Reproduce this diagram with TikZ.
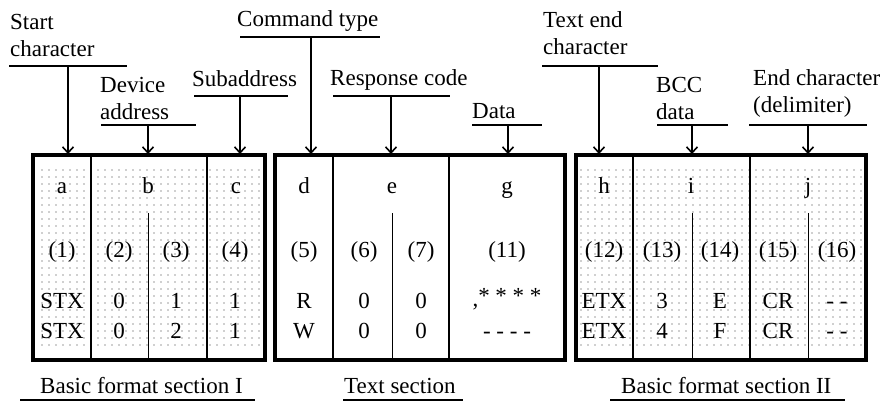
\documentclass[tikz,border=0pt]{standalone}
\usepackage{fontspec}
\setmainfont{Liberation Serif}
\usetikzlibrary{arrows.meta}
\usetikzlibrary{patterns.meta}

\begin{document}
\begin{tikzpicture}[x = 1pt, y = -1pt, font=\fontsize{23}{27}\selectfont]
	\tikzstyle{labelStyle} = [anchor = base west, inner sep = 0pt, align = left]
	\tikzstyle{cellStyle} = [anchor = base, inner sep = 0pt]
	\tikzstyle{underStyle} = [line width = 1.6pt]
	\tikzstyle{arrowStyle} = [line width = 1.6pt, -{Straight Barb[length = 6pt, width = 11pt, line width = 1.6pt]}]
	\tikzstyle{frameStyle} = [line width = 3.6pt]
	\tikzstyle{colStyle} = [line width = 1.8pt]
	\tikzstyle{splitStyle} = [line width = 0.8pt]
	\tikzstyle{dotStyle} = [pattern = {Dots[radius = 0.6pt, distance = 7pt]}, pattern color = black!80]
	\useasboundingbox (0,0) rectangle (882,401);
	% dotted sections
	\fill[dotStyle] (36,168) rectangle (262,348);
	\fill[dotStyle] (579,168) rectangle (863,348);
	% frames
	\draw[frameStyle] (33,155) rectangle (265,360);
	\draw[frameStyle] (275,155) rectangle (565,360);
	\draw[frameStyle] (576,155) rectangle (866,360);
	\draw[colStyle] (91,155) -- (91,360);
	\draw[colStyle] (207,155) -- (207,360);
	\draw[colStyle] (333,155) -- (333,360);
	\draw[colStyle] (449,155) -- (449,360);
	\draw[colStyle] (633,155) -- (633,360);
	\draw[colStyle] (750,155) -- (750,360);
	\draw[splitStyle] (148,213) -- (148,360);
	\draw[splitStyle] (392,213) -- (392,360);
	\draw[splitStyle] (692,213) -- (692,360);
	\draw[splitStyle] (808,213) -- (808,360);
	% field letters
	\node[cellStyle] (fa) at (62,193) {a};
	\node[cellStyle] (fb) at (148,193) {b};
	\node[cellStyle] (fc) at (236,193) {c};
	\node[cellStyle] (fd) at (304,193) {d};
	\node[cellStyle] (fe) at (392,193) {e};
	\node[cellStyle] (fg) at (507,193) {g};
	\node[cellStyle] (fh) at (604,193) {h};
	\node[cellStyle] (fi) at (691,193) {i};
	\node[cellStyle] (fj) at (808,193) {j};
	% byte numbers
	\node[cellStyle] (n1) at (62,257) {(1)};
	\node[cellStyle] (n2) at (119,257) {(2)};
	\node[cellStyle] (n3) at (176,257) {(3)};
	\node[cellStyle] (n4) at (235,257) {(4)};
	\node[cellStyle] (n5) at (304,257) {(5)};
	\node[cellStyle] (n6) at (364,257) {(6)};
	\node[cellStyle] (n7) at (421,257) {(7)};
	\node[cellStyle] (n11) at (507,257) {(11)};
	\node[cellStyle] (n12) at (604,257) {(12)};
	\node[cellStyle] (n13) at (662,257) {(13)};
	\node[cellStyle] (n14) at (720,257) {(14)};
	\node[cellStyle] (n15) at (778,257) {(15)};
	\node[cellStyle] (n16) at (837,257) {(16)};
	% first example
	\node[cellStyle] (r1) at (62,308) {STX};
	\node[cellStyle] (r2) at (119,308) {0};
	\node[cellStyle] (r3) at (176,308) {1};
	\node[cellStyle] (r4) at (235,308) {1};
	\node[cellStyle] (r5) at (304,308) {R};
	\node[cellStyle] (r6) at (364,308) {0};
	\node[cellStyle] (r7) at (421,308) {0};
	\node[cellStyle] (r11) at (507,306) {,\raisebox{3pt}{* * * *}};
	\node[cellStyle] (r12) at (604,308) {ETX};
	\node[cellStyle] (r13) at (662,308) {3};
	\node[cellStyle] (r14) at (720,308) {E};
	\node[cellStyle] (r15) at (778,308) {CR};
	\node[cellStyle] (r16) at (837,308) {- -};
	% second example
	\node[cellStyle] (w1) at (62,338) {STX};
	\node[cellStyle] (w2) at (119,338) {0};
	\node[cellStyle] (w3) at (176,338) {2};
	\node[cellStyle] (w4) at (235,338) {1};
	\node[cellStyle] (w5) at (304,338) {W};
	\node[cellStyle] (w6) at (364,338) {0};
	\node[cellStyle] (w7) at (421,338) {0};
	\node[cellStyle] (w11) at (507,338) {- - - -};
	\node[cellStyle] (w12) at (604,338) {ETX};
	\node[cellStyle] (w13) at (662,338) {4};
	\node[cellStyle] (w14) at (720,338) {F};
	\node[cellStyle] (w15) at (778,338) {CR};
	\node[cellStyle] (w16) at (837,338) {- -};
	% labels above
	\node[labelStyle] (lStart) at (10,57) {Start\\character};
	\node[labelStyle] (lDevice) at (100,120) {Device\\address};
	\node[labelStyle] (lSub) at (192,87) {Subaddress};
	\node[labelStyle] (lCmd) at (237,27) {Command type};
	\node[labelStyle] (lResp) at (330,85) {Response code};
	\node[labelStyle] (lData) at (472,118) {Data};
	\node[labelStyle] (lEtx) at (543,55) {Text end\\character};
	\node[labelStyle] (lBcc) at (656,119) {BCC\\data};
	\node[labelStyle] (lEnd) at (753,113) {End character\\(delimiter)};
	% labels below
	\node[labelStyle] (lSec1) at (40,393) {Basic format section I};
	\node[labelStyle] (lSec2) at (344,393) {Text section};
	\node[labelStyle] (lSec3) at (621,393) {Basic format section II};
	% underlines
	\draw[underStyle] (9,66) -- (127,66);
	\draw[underStyle] (101,125) -- (196,125);
	\draw[underStyle] (194,96) -- (288,96);
	\draw[underStyle] (240,37) -- (380,37);
	\draw[underStyle] (333,96) -- (450,96);
	\draw[underStyle] (472,125) -- (542,125);
	\draw[underStyle] (542,66) -- (658,66);
	\draw[underStyle] (657,125) -- (728,125);
	\draw[underStyle] (749,125) -- (867,125);
	\draw[underStyle] (20,400) -- (255,400);
	\draw[underStyle] (343,400) -- (463,400);
	\draw[underStyle] (610,400) -- (845,400);
	% arrows
	\draw[arrowStyle] (68,66) -- (68,154);
	\draw[arrowStyle] (148,125) -- (148,154);
	\draw[arrowStyle] (240,96) -- (240,154);
	\draw[arrowStyle] (311,37) -- (311,154);
	\draw[arrowStyle] (391,96) -- (391,154);
	\draw[arrowStyle] (508,125) -- (508,154);
	\draw[arrowStyle] (599,66) -- (599,154);
	\draw[arrowStyle] (692,125) -- (692,154);
	\draw[arrowStyle] (808,125) -- (808,154);
\end{tikzpicture}
\end{document}
